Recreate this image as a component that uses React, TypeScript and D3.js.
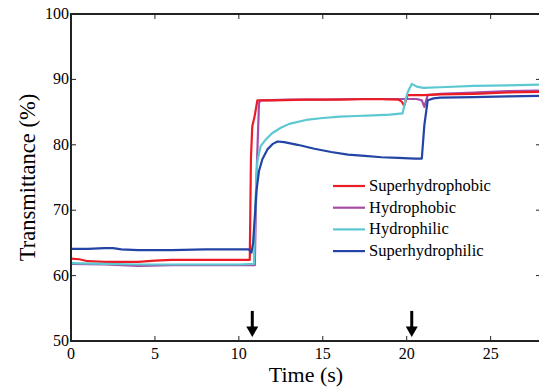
import React, { useEffect, useRef } from 'react';
import * as d3 from 'd3';

// series data (time in s, transmittance in %)
const redT = [0, 0.5, 1, 2, 3, 4, 5, 6, 8, 10, 10.65, 10.72, 10.8, 10.95, 11.1, 12, 14, 16, 18, 19.5, 19.7, 19.85, 20.05, 21, 22, 24, 26, 28];
const redV = [62.6, 62.5, 62.2, 62.1, 62.1, 62.1, 62.3, 62.4, 62.4, 62.4, 62.4, 78, 82.8, 84.5, 86.8, 86.8, 86.9, 86.9, 87.0, 86.9, 86.6, 86.0, 87.6, 87.6, 87.7, 87.8, 88.0, 88.1];

const purpleT = [0, 2, 4, 6, 8, 10, 10.95, 11.05, 11.2, 11.3, 13, 15, 17, 19, 20.6, 20.9, 21.05, 21.25, 22, 24, 26, 28];
const purpleV = [61.8, 61.7, 61.5, 61.6, 61.6, 61.6, 61.6, 75, 86.4, 86.8, 86.9, 86.9, 87.0, 87.0, 87.0, 86.8, 85.8, 87.6, 87.8, 88.0, 88.2, 88.3];

const cyanT = [0, 2, 4, 6, 8, 10, 10.9, 11.0, 11.1, 11.3, 11.6, 12, 12.5, 13, 14, 15, 16, 17, 18, 19, 19.75, 19.9, 20.05, 20.3, 20.6, 21, 22, 24, 26, 28];
const cyanV = [61.9, 61.8, 61.7, 61.7, 61.7, 61.7, 61.8, 72, 77.5, 79.8, 80.8, 81.8, 82.6, 83.2, 83.8, 84.1, 84.3, 84.4, 84.5, 84.6, 84.8, 86.5, 88.0, 89.3, 88.9, 88.7, 88.8, 89.0, 89.1, 89.2];

const blueT = [0, 1, 2, 2.5, 3, 4, 5, 6, 8, 10, 10.6, 10.75, 10.85, 10.95, 11.05, 11.2, 11.4, 11.7, 12, 12.3, 12.7, 13.5, 14.5, 15.5, 16.5, 17.5, 18.5, 19.5, 20.5, 20.9, 21.05, 21.25, 21.6, 22, 24, 26, 28];
const blueV = [64.1, 64.1, 64.2, 64.2, 64.0, 63.9, 63.9, 63.9, 64.0, 64.0, 64.0, 63.5, 65, 69, 73, 76, 77.8, 79.3, 80.1, 80.5, 80.4, 80.0, 79.4, 78.9, 78.5, 78.3, 78.1, 78.0, 77.9, 77.9, 83, 86.8, 87.1, 87.2, 87.3, 87.4, 87.5];

const seriesNames = ['Superhydrophobic', 'Hydrophobic', 'Hydrophilic', 'Superhydrophilic'];
const seriesColors = ['#ec1c24', '#a64ca6', '#5cc8d2', '#2244a4'];
const xTicks = [0, 5, 10, 15, 20, 25];
const yTicks = [50, 60, 70, 80, 90, 100];
const arrowTimes = [10.8, 20.3];

const App = () => {
    const svgRef = useRef<SVGSVGElement>(null);

    useEffect(() => {
        const width = 539;
        const height = 388;
        const margin = { top: 14, left: 71, bottom: 47 };
        const plotW = 470; // right edge falls just outside the picture
        const plotH = height - margin.top - margin.bottom;

        const x = d3.scaleLinear().domain([0, 28]).range([margin.left, margin.left + plotW]);
        const y = d3.scaleLinear().domain([50, 100]).range([margin.top + plotH, margin.top]);

        const svg = d3.select(svgRef.current);
        svg.selectAll('*').remove();
        svg.attr('width', width).attr('height', height)
            .attr('font-family', 'Liberation Serif');

        // series lines
        const all = [
            [redT, redV],
            [purpleT, purpleV],
            [cyanT, cyanV],
            [blueT, blueV],
        ];
        const line = d3.line<[number, number]>().x(d => x(d[0])).y(d => y(d[1]));
        // draw order: purple, red, cyan, blue
        [1, 0, 2, 3].forEach(i => {
            const pts = all[i][0].map((t, k) => [t, all[i][1][k]] as [number, number]);
            svg.append('path')
                .attr('d', line(pts))
                .attr('fill', 'none')
                .attr('stroke', seriesColors[i])
                .attr('stroke-width', 2.2)
                .attr('stroke-linejoin', 'round');
        });

        // frame with inward ticks
        const g = svg.append('g').attr('stroke', '#222').attr('fill', 'none');
        g.append('rect')
            .attr('x', x(0)).attr('y', y(100))
            .attr('width', x(28) - x(0)).attr('height', y(50) - y(100))
            .attr('stroke-width', 2);
        xTicks.forEach(t => {
            g.append('line').attr('x1', x(t)).attr('x2', x(t)).attr('y1', y(50)).attr('y2', y(50) - 5).attr('stroke-width', 1);
            g.append('line').attr('x1', x(t)).attr('x2', x(t)).attr('y1', y(100)).attr('y2', y(100) + 5).attr('stroke-width', 1);
        });
        yTicks.forEach(v => {
            g.append('line').attr('x1', x(0)).attr('x2', x(0) + 5).attr('y1', y(v)).attr('y2', y(v)).attr('stroke-width', 1);
            g.append('line').attr('x1', x(28)).attr('x2', x(28) - 5).attr('y1', y(v)).attr('y2', y(v)).attr('stroke-width', 1);
        });

        // tick labels
        svg.append('g').selectAll('text').data(xTicks).enter().append('text')
            .attr('x', d => x(d)).attr('y', y(50) + 18)
            .attr('text-anchor', 'middle')
            .attr('font-size', 16)
            .text(d => d);
        svg.append('g').selectAll('text').data(yTicks).enter().append('text')
            .attr('x', x(0) - 2).attr('y', d => y(d) + 5)
            .attr('text-anchor', 'end')
            .attr('font-size', 16)
            .text(d => d);

        // axis titles
        svg.append('text')
            .attr('x', 306).attr('y', 382)
            .attr('text-anchor', 'middle')
            .attr('font-size', 22)
            .text('Time (s)');
        svg.append('text')
            .attr('transform', `translate(35, ${y(75)}) rotate(-90)`)
            .attr('text-anchor', 'middle')
            .attr('font-size', 22.5)
            .text('Transmittance (%)');

        // arrows marking the events
        arrowTimes.forEach(t => {
            const ax = x(t);
            svg.append('line')
                .attr('x1', ax).attr('x2', ax)
                .attr('y1', y(54.6)).attr('y2', y(51.8))
                .attr('stroke', '#000').attr('stroke-width', 3);
            svg.append('path')
                .attr('d', `M${ax - 6},${y(52.2)} L${ax + 6},${y(52.2)} L${ax},${y(50.6)} Z`)
                .attr('fill', '#000');
        });

        // legend
        const legend = svg.append('g');
        seriesNames.forEach((name, i) => {
            const ly = 186 + i * 21.7;
            legend.append('line')
                .attr('x1', 333).attr('x2', 365)
                .attr('y1', ly).attr('y2', ly)
                .attr('stroke', seriesColors[i]).attr('stroke-width', 2.2);
            legend.append('text')
                .attr('x', 369).attr('y', ly + 5)
                .attr('font-size', 16.5)
                .text(name);
        });
    }, []);

    return (
        <svg ref={svgRef} style={{ position: 'absolute', left: 0, top: 0, background: '#fff' }}></svg>
    );
};

export default App;
